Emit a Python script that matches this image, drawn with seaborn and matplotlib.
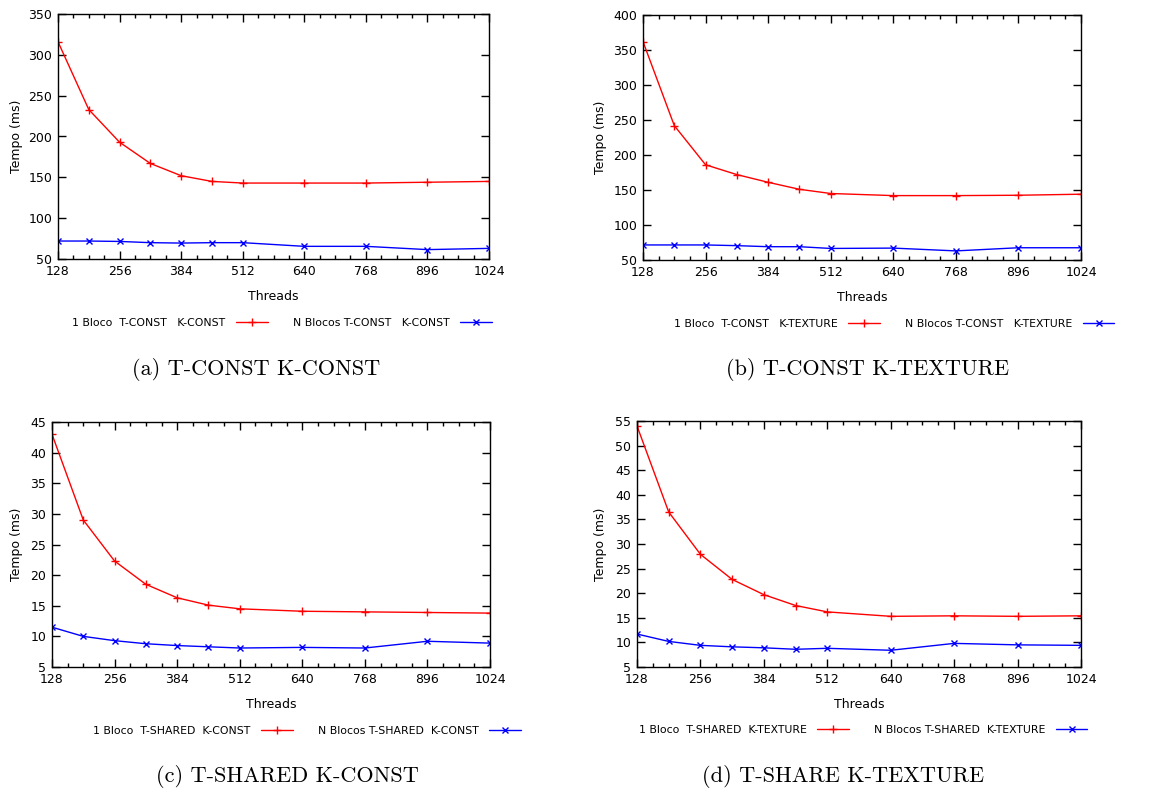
import numpy as np
import pandas as pd
import matplotlib
matplotlib.use("Agg")
import matplotlib.pyplot as plt
from matplotlib.ticker import MultipleLocator, FixedLocator
import seaborn as sns

sns.set_style("ticks")
plt.rcParams['font.family'] = ['DejaVu Sans']
plt.rcParams['text.color'] = 'black'
plt.rcParams['axes.labelcolor'] = 'black'
plt.rcParams['xtick.color'] = 'black'
plt.rcParams['ytick.color'] = 'black'

threads = [128, 192, 256, 320, 384, 448, 512, 640, 768, 896, 1024]

a_red = [316, 233, 193, 167, 152, 145, 143, 143, 143, 144, 145]
a_blue = [72, 72, 71.5, 70, 69.5, 70, 70, 65.5, 65.5, 61.5, 63]
b_red = [362, 242, 186, 172, 161, 151, 145, 142, 142, 142.5, 144]
b_blue = [71.5, 71.5, 71.5, 70.5, 69, 69, 66.5, 67, 63, 67.5, 67.5]
c_red = [43, 29, 22.3, 18.5, 16.3, 15.1, 14.5, 14.1, 14.0, 13.9, 13.8]
c_blue = [11.5, 10, 9.3, 8.8, 8.5, 8.3, 8.1, 8.2, 8.1, 9.2, 8.9]
d_red = [54, 36.5, 27.9, 22.8, 19.7, 17.5, 16.2, 15.3, 15.4, 15.3, 15.4]
d_blue = [11.7, 10.2, 9.4, 9.1, 8.9, 8.6, 8.8, 8.4, 9.8, 9.5, 9.4]

labels_red = ["1 Bloco  T-CONST   K-CONST", "1 Bloco  T-CONST   K-TEXTURE",
              "1 Bloco  T-SHARED  K-CONST", "1 Bloco  T-SHARED  K-TEXTURE"]
labels_blue = ["N Blocos T-CONST   K-CONST", "N Blocos T-CONST   K-TEXTURE",
               "N Blocos T-SHARED  K-CONST", "N Blocos T-SHARED  K-TEXTURE"]
captions = ["(a) T-CONST K-CONST", "(b) T-CONST K-TEXTURE",
            "(c) T-SHARED K-CONST", "(d) T-SHARE K-TEXTURE"]
x_ticks = [128, 256, 384, 512, 640, 768, 896, 1024]
ylims = [(50, 350, 50), (50, 400, 50), (5, 45, 5), (5, 55, 5)]

W, H = 1151, 794
fig = plt.figure(figsize=(W / 100, H / 100), dpi=100)

# axes boxes in pixels: left, top, right, bottom
boxes = [(58, 14, 489, 259), (643, 15, 1081, 260), (52, 422, 490, 667), (637, 421, 1081, 667)]
legend_pos = [(282, 323), (894, 324), (307, 731), (863, 730)]
caption_pos = [(256, 370), (868, 370), (287, 776), (843, 776)]
ylabel_x = [23, 607, 23, 607]

series = [(a_red, a_blue), (b_red, b_blue), (c_red, c_blue), (d_red, d_blue)]
RED = "#ff0000"
BLUE = "#0000ff"
FS = 9.0

for i, ((l, t, r, b), (red, blue)) in enumerate(zip(boxes, series)):
    ax = fig.add_axes([l / W, (H - b) / H, (r - l) / W, (b - t) / H])
    df_r = pd.DataFrame({"Threads": threads, "Tempo": red})
    df_b = pd.DataFrame({"Threads": threads, "Tempo": blue})
    sns.lineplot(data=df_r, x="Threads", y="Tempo", ax=ax, color=RED, lw=1.0,
                 marker="+", ms=6, mec=RED, mew=1.0, label=labels_red[i], legend=False)
    sns.lineplot(data=df_b, x="Threads", y="Tempo", ax=ax, color=BLUE, lw=1.0,
                 marker="x", ms=5, mec=BLUE, mew=1.0, label=labels_blue[i], legend=False)
    ax.set_xlim(128, 1024)
    y0, y1, ys = ylims[i]
    ax.set_ylim(y0, y1)
    ax.xaxis.set_major_locator(FixedLocator(x_ticks))
    ax.xaxis.set_minor_locator(MultipleLocator(32))
    ax.yaxis.set_major_locator(MultipleLocator(ys))
    ax.tick_params(which="both", direction="in", top=True, right=True,
                   colors="black", labelsize=FS, width=1.0)
    ax.tick_params(which="major", length=6, pad=4)
    ax.tick_params(which="minor", length=3)
    for s in ax.spines.values():
        s.set_visible(True)
        s.set_color("black")
        s.set_linewidth(1.0)
    ax.set_xlabel("Threads", fontsize=FS, labelpad=9, color="black")
    ax.set_ylabel("Tempo (ms)", fontsize=FS, color="black")
    ax.yaxis.set_label_coords(ylabel_x[i] / W, 1 - ((t + b) / 2) / H,
                              transform=fig.transFigure)
    handles, labs = ax.get_legend_handles_labels()
    lx, ly = legend_pos[i]
    leg = ax.legend(handles, labs, loc="center", bbox_to_anchor=(lx / W, 1 - ly / H),
                    bbox_transform=fig.transFigure, ncol=2, markerfirst=False,
                    frameon=False, fontsize=7.8, handlelength=2.9, handletextpad=1.0,
                    columnspacing=2.3, numpoints=1)
    for txt in leg.get_texts():
        txt.set_color("black")
    cx, cy = caption_pos[i]
    fig.text(cx / W, 1 - cy / H, captions[i], ha="center", va="center",
             fontsize=16, family="cmr10", color="black")

fig.savefig("out.png", dpi=100)
